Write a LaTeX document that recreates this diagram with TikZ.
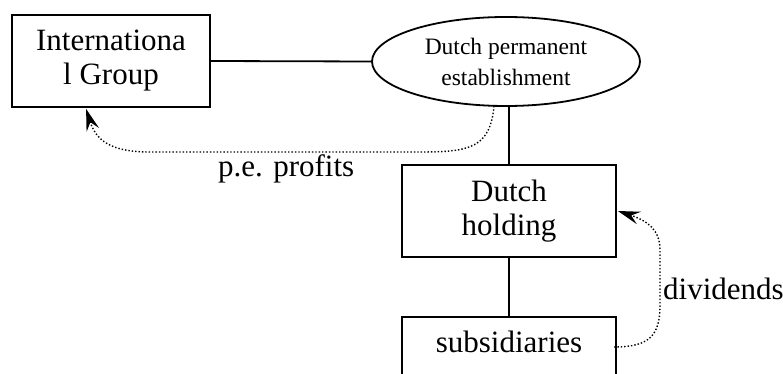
\documentclass[tikz,border=0pt]{standalone}
\usepackage{fontspec}
\setmainfont{Liberation Serif}
\usetikzlibrary{arrows.meta,calc,shapes.geometric}
\begin{document}
\begin{tikzpicture}[x=1pt,y=-1pt,
  box/.style={draw,line width=1.8pt,rectangle,minimum width=214pt,minimum height=92pt,align=center,inner sep=0pt,
    font=\fontsize{31}{34}\selectfont},
  oval/.style={draw,line width=1.8pt,ellipse,minimum width=268pt,minimum height=89pt,inner sep=0pt,align=center,
    font=\fontsize{23.5}{31}\selectfont},
  link/.style={line width=1.8pt},
  flow/.style={dotted,line width=1.4pt,-{Stealth[length=22pt,width=13pt,inset=8pt]}},
  lbl/.style={font=\fontsize{31}{34}\selectfont,inner sep=0pt,anchor=base west}]
\useasboundingbox (0,0) rectangle (783,374);
\clip (0,0) rectangle (783,374);
\node[box,minimum width=198pt] (intl) at (111,61) {Internationa\\l Group};
\node[oval] (pe) at (506,61.5) {Dutch permanent\\establishment};
\node[box] (hold) at (509,211) {Dutch\\holding};
\node[box] (subs) at (509,363) {subsidiaries\\[-2pt]\strut};
\draw[link] (intl.east) -- (pe.west);
\draw[link] (pe.south -| hold.north) -- (hold.north);
\draw[link] (hold.south) -- (subs.north);
\coordinate (peStart) at (494,106);
\coordinate (divStart) at (614,347);
\draw[flow] (peStart) .. controls (490,148) and (470,152) .. (420,152) -- (150,152)
  .. controls (110,152) and (96,140) .. ($(intl.south west)+(75,1)$);
\draw[flow] (divStart) .. controls (650,347) and (660,335) .. (660,305) -- (660,250)
  .. controls (660,230) and (648,221) .. ($(hold.east)+(1,0)$);
\node[lbl] (pel) at (218,176) {p.e. profits};
\node[lbl] (divl) at (663,299) {dividends};
\end{tikzpicture}
\end{document}
